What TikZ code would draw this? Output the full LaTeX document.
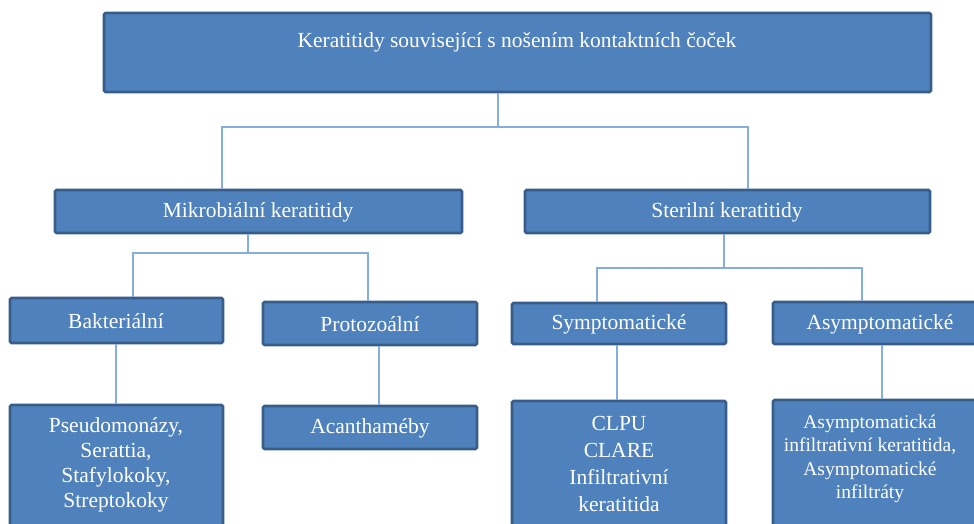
\documentclass[tikz,border=0pt]{standalone}
\usepackage{fontspec}
\setmainfont{Liberation Serif}
\definecolor{boxfill}{HTML}{4F81BD}
\definecolor{boxline}{HTML}{385D8A}
\definecolor{connline}{HTML}{86AEDD}
\tikzset{
  box/.style={draw=boxline, fill=boxfill, line width=2.6pt, rounded corners=1.5pt, inner sep=0pt},
  lbl/.style={text=white, inner sep=0pt, align=center, font=\fontsize{21.5}{26}\selectfont},
  conn/.style={draw=connline, line width=1.5pt}
}
\newcommand{\mybox}[5]{\node[box, minimum width={(#4)-(#2)}, minimum height={(#5)-(#3)}] (#1) at ({((#2)+(#4))/2},{((#3)+(#5))/2}) {};}
\begin{document}
\begin{tikzpicture}[x=1pt,y=-1pt]
\clip (0,0) rectangle (974,524);
\fill[white] (0,0) rectangle (974,524);
% boxes
\mybox{top}{104}{13}{931}{92}
\mybox{mik}{55}{190}{462}{233}
\mybox{ster}{525}{190}{930}{233}
\mybox{bak}{10}{298}{223}{343}
\mybox{prot}{263}{302}{477}{345}
\mybox{sym}{512}{303}{726}{344}
\mybox{asym}{773}{302}{987}{344}
\mybox{pseudo}{10}{405}{223}{545}
\mybox{acan}{263}{406}{477}{449}
\mybox{clpu}{512}{401}{726}{545}
\mybox{asyinf}{773}{400}{990}{545}
% labels
\node[lbl] (ttop) at (517,42) {Keratitidy související s nošením kontaktních čoček};
\node[lbl] (tmik) at (258,212) {Mikrobiální keratitidy};
\node[lbl] (tster) at (727,212) {Sterilní keratitidy};
\node[lbl] (tbak) at (116,321) {Bakteriální};
\node[lbl] (tprot) at (370,324) {Protozoální};
\node[lbl] (tsym) at (619,324) {Symptomatické};
\node[lbl] (tasym) at (880,324) {Asymptomatické};
\node[lbl, font=\fontsize{21.5}{25}\selectfont] (tpseudo) at (116,465) {Pseudomonázy,\\Serattia,\\Stafylokoky,\\Streptokoky};
\node[lbl] (tacan) at (370,428) {Acanthaméby};
\node[lbl, font=\fontsize{21.5}{26.7}\selectfont] (tclpu) at (619,464) {CLPU\\CLARE\\Infiltrativní\\keratitida};
\node[lbl, font=\fontsize{19.5}{23.5}\selectfont] (tasyinf) at (870,459) {Asymptomatická\\infiltrativní keratitida,\\Asymptomatické\\infiltráty};
% junction coordinates
\coordinate (j1) at (498,127);
\coordinate (cmik) at (222,0);
\coordinate (cster) at (748,0);
\coordinate (j2) at (248,253);
\coordinate (cbak) at (133,0);
\coordinate (cprot) at (368,0);
\coordinate (j3) at (724,268);
\coordinate (csym) at (597,0);
\coordinate (casym) at (862,0);
\coordinate (dbak) at (116,0);
\coordinate (dprot) at (379,0);
\coordinate (dsym) at (617,0);
\coordinate (dasym) at (882,0);
% connectors
\draw[conn] (top.south -| j1) -- (j1);
\draw[conn] (mik.north -| cmik) |- (j1) -| (ster.north -| cster);
\draw[conn] (mik.south -| j2) -- (j2);
\draw[conn] (bak.north -| cbak) |- (j2) -| (prot.north -| cprot);
\draw[conn] (ster.south -| j3) -- (j3);
\draw[conn] (sym.north -| csym) |- (j3) -| (asym.north -| casym);
\draw[conn] (bak.south -| dbak) -- (pseudo.north -| dbak);
\draw[conn] (prot.south -| dprot) -- (acan.north -| dprot);
\draw[conn] (sym.south -| dsym) -- (clpu.north -| dsym);
\draw[conn] (asym.south -| dasym) -- (asyinf.north -| dasym);
\end{tikzpicture}
\end{document}
